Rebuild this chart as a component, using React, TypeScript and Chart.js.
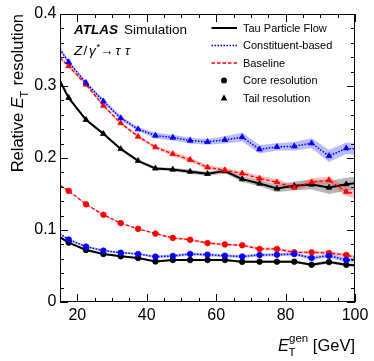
import React, { useEffect, useRef } from 'react';
import { Chart, registerables } from 'chart.js';

Chart.register(...registerables);

// ---- data ----
const binCenters = [17.5, 22.5, 27.5, 32.5, 37.5, 42.5, 47.5, 52.5, 57.5, 62.5, 67.5, 72.5, 77.5, 82.5, 87.5, 92.5, 97.5];
const axisEdges = [15, 100];

// Tail resolution (triangles)
const tailTPF = [0.2835, 0.253, 0.2336, 0.2126, 0.196, 0.1855, 0.184, 0.181, 0.178, 0.1818, 0.1706, 0.1646, 0.1576, 0.1613, 0.1632, 0.159, 0.1636];
const tailTPFEdge = [0.307, 0.165];
const tailCB = [0.3333, 0.3045, 0.2788, 0.2555, 0.240, 0.2312, 0.2284, 0.2242, 0.2224, 0.2252, 0.229, 0.2121, 0.2154, 0.2163, 0.2205, 0.2028, 0.2135];
const tailCBEdge = [0.351, 0.2126];
const tailBase = [0.3277, 0.302, 0.2727, 0.2485, 0.2298, 0.215, 0.2056, 0.1976, 0.187, 0.1832, 0.1786, 0.1716, 0.1664, 0.159, 0.1664, 0.1692, 0.1529];
const tailBaseEdge = [0.339, 0.1506];

// Core resolution (circles)
const coreTPF = [0.0825, 0.0723, 0.0667, 0.0634, 0.0611, 0.0564, 0.0583, 0.0583, 0.0583, 0.0583, 0.0558, 0.056, 0.056, 0.056, 0.0517, 0.0555, 0.0517];
const coreTPFEdge = [0.090, 0.051];
const coreCB = [0.0867, 0.0769, 0.0713, 0.0685, 0.0667, 0.063, 0.0639, 0.0667, 0.0657, 0.0643, 0.0632, 0.0653, 0.0657, 0.0667, 0.0611, 0.0643, 0.0583];
const coreCBEdge = [0.0947, 0.058];
const coreBase = [0.1543, 0.1357, 0.1212, 0.1095, 0.1016, 0.095, 0.089, 0.0865, 0.0818, 0.080, 0.0788, 0.0737, 0.0737, 0.069, 0.069, 0.068, 0.0653];
const coreBaseEdge = [0.162, 0.062];

// Uncertainty half-widths
const errTailTPF = [0.002, 0.002, 0.002, 0.002, 0.002, 0.002, 0.002, 0.003, 0.003, 0.003, 0.004, 0.004, 0.005, 0.006, 0.007, 0.009, 0.009];
const errTailTPFEdge = [0.003, 0.009];
const errTailCB = [0.002, 0.002, 0.003, 0.003, 0.003, 0.004, 0.004, 0.004, 0.004, 0.005, 0.006, 0.006, 0.005, 0.006, 0.007, 0.0085, 0.008];
const errTailCBEdge = [0.003, 0.008];
const errTailBase = [0.002, 0.002, 0.002, 0.002, 0.002, 0.002, 0.003, 0.003, 0.003, 0.003, 0.003, 0.004, 0.004, 0.004, 0.005, 0.005, 0.006];
const errTailBaseEdge = [0.002, 0.007];
const errCoreTPF = [0.001, 0.001, 0.001, 0.001, 0.001, 0.001, 0.001, 0.001, 0.001, 0.001, 0.0015, 0.0015, 0.0015, 0.0015, 0.002, 0.002, 0.002];
const errCoreTPFEdge = [0.001, 0.002];
const errCoreCB = [0.0015, 0.0015, 0.0015, 0.0015, 0.0015, 0.002, 0.002, 0.002, 0.002, 0.002, 0.002, 0.002, 0.002, 0.0025, 0.0025, 0.003, 0.003];
const errCoreCBEdge = [0.0015, 0.003];
const errCoreBase = [0.001, 0.001, 0.001, 0.001, 0.001, 0.001, 0.0015, 0.0015, 0.0015, 0.0015, 0.0015, 0.002, 0.002, 0.002, 0.002, 0.002, 0.0025];
const errCoreBaseEdge = [0.001, 0.0025];

const xTickLabels = [20, 40, 60, 80, 100];
const yTickLabels = [0, 0.1, 0.2, 0.3, 0.4];

const legendLabels = ['Tau Particle Flow', 'Constituent-based', 'Baseline', 'Core resolution', 'Tail resolution'];

// ---- helpers ----
const FONT = '"Liberation Sans", Arial, Helvetica, sans-serif';
const BLACK = '#000000';
const BLUE = '#0000ff';
const RED = '#ff0000';

function build(vals: number[], edges: number[]) {
  return [
    { x: axisEdges[0], y: edges[0] },
    ...binCenters.map((x, i) => ({ x, y: vals[i] })),
    { x: axisEdges[1], y: edges[1] },
  ];
}
function shifted(vals: number[], edges: number[], err: number[], errE: number[], sign: number) {
  return build(vals.map((v, i) => v + sign * err[i]), edges.map((v, i) => v + sign * errE[i]));
}

type Series = { vals: number[]; edges: number[]; err: number[]; errE: number[]; color: string; band: string; dash: number[]; width: number; style: string; radius: number };

const seriesList: Series[] = [
  { vals: tailCB, edges: tailCBEdge, err: errTailCB, errE: errTailCBEdge, color: BLUE, band: 'rgba(60,60,255,0.35)', dash: [1.5, 1.5], width: 1.5, style: 'triangle', radius: 3.3 },
  { vals: tailBase, edges: tailBaseEdge, err: errTailBase, errE: errTailBaseEdge, color: RED, band: 'rgba(255,60,60,0.32)', dash: [3.5, 2], width: 1.3, style: 'triangle', radius: 3.3 },
  { vals: tailTPF, edges: tailTPFEdge, err: errTailTPF, errE: errTailTPFEdge, color: BLACK, band: 'rgba(0,0,0,0.28)', dash: [], width: 2, style: 'triangle', radius: 3.3 },
  { vals: coreCB, edges: coreCBEdge, err: errCoreCB, errE: errCoreCBEdge, color: BLUE, band: 'rgba(60,60,255,0.35)', dash: [1.5, 1.5], width: 1.5, style: 'circle', radius: 2.8 },
  { vals: coreBase, edges: coreBaseEdge, err: errCoreBase, errE: errCoreBaseEdge, color: RED, band: 'rgba(255,60,60,0.32)', dash: [3.5, 2], width: 1.3, style: 'circle', radius: 2.8 },
  { vals: coreTPF, edges: coreTPFEdge, err: errCoreTPF, errE: errCoreTPFEdge, color: BLACK, band: 'rgba(0,0,0,0.28)', dash: [], width: 2, style: 'circle', radius: 2.8 },
];

function makeDatasets() {
  const ds: any[] = [];
  const nPts = binCenters.length + 2;
  seriesList.forEach((s) => {
    const lowIdx = ds.length;
    ds.push({
      type: 'line', data: shifted(s.vals, s.edges, s.err, s.errE, -1), borderWidth: 0, borderColor: 'transparent',
      pointRadius: 0, fill: false, order: 10, tension: 0,
    });
    ds.push({
      type: 'line', data: shifted(s.vals, s.edges, s.err, s.errE, 1), borderWidth: 0, borderColor: 'transparent',
      pointRadius: 0, fill: { target: lowIdx }, backgroundColor: s.band, order: 10, tension: 0,
    });
  });
  seriesList.forEach((s) => {
    ds.push({
      type: 'line', data: build(s.vals, s.edges), borderColor: s.color, backgroundColor: s.color,
      borderWidth: s.width, borderDash: s.dash, fill: false, tension: 0, order: 0,
      pointStyle: s.style,
      pointRadius: (c: any) => (c.dataIndex === 0 || c.dataIndex === nPts - 1 ? 0 : s.radius),
      pointBorderWidth: 0.8, pointBorderColor: s.color, pointBackgroundColor: s.color,
    });
  });
  return ds;
}

function drawMarker(ctx: CanvasRenderingContext2D, style: string, x: number, y: number, r: number) {
  ctx.beginPath();
  if (style === 'circle') {
    ctx.arc(x, y, r, 0, Math.PI * 2);
  } else {
    ctx.moveTo(x, y - r * 1.1);
    ctx.lineTo(x + r, y + r * 0.75);
    ctx.lineTo(x - r, y + r * 0.75);
    ctx.closePath();
  }
  ctx.fill();
}

const decorPlugin = {
  id: 'decor',
  afterDraw(chart: any) {
    const ctx: CanvasRenderingContext2D = chart.ctx;
    const xs = chart.scales.x;
    const ys = chart.scales.y;
    const { left, right, top, bottom } = chart.chartArea;
    ctx.save();
    ctx.strokeStyle = '#000';
    ctx.lineWidth = 1;
    ctx.setLineDash([]);
    ctx.strokeRect(left + 0.5, top + 0.5, right - left - 1, bottom - top - 1);

    // x ticks
    for (let v = 15; v <= 100; v += 5) {
      const px = Math.round(xs.getPixelForValue(v)) + 0.5;
      const len = v % 20 === 0 ? 8 : 4;
      ctx.beginPath();
      ctx.moveTo(px, bottom); ctx.lineTo(px, bottom - len);
      ctx.moveTo(px, top); ctx.lineTo(px, top + len);
      ctx.stroke();
    }
    // y ticks
    for (let i = 0; i <= 20; i++) {
      const py = Math.round(ys.getPixelForValue(i * 0.02)) + 0.5;
      const len = i % 5 === 0 ? 8 : 4;
      ctx.beginPath();
      ctx.moveTo(left, py); ctx.lineTo(left + len, py);
      ctx.moveTo(right, py); ctx.lineTo(right - len, py);
      ctx.stroke();
    }

    ctx.fillStyle = '#000';
    ctx.textBaseline = 'alphabetic';
    ctx.textAlign = 'left';

    // x title: E_T^gen [GeV]
    {
      const big = 16.5, small = 11.5;
      const fE = `italic ${big}px ${FONT}`;
      const fS = `${small}px ${FONT}`;
      const fR = `${big}px ${FONT}`;
      ctx.font = fE; const wE = ctx.measureText('E').width;
      ctx.font = fS; const wSub = ctx.measureText('T').width; const wSup = ctx.measureText('gen').width;
      ctx.font = fR; const wG = ctx.measureText(' [GeV]').width;
      const total = wE + Math.max(wSub, wSup) + wG;
      let x0 = right - total;
      const base = 351;
      ctx.font = fE; ctx.fillText('E', x0, base);
      ctx.font = fS; ctx.fillText('T', x0 + wE - 0.5, base + 4.5); ctx.fillText('gen', x0 + wE, base - 9);
      ctx.font = fR; ctx.fillText(' [GeV]', x0 + wE + Math.max(wSub, wSup), base);
    }
    // y title: Relative E_T resolution (rotated)
    {
      const big = 16.5, small = 11.5;
      const fR = `${big}px ${FONT}`;
      const fE = `italic ${big}px ${FONT}`;
      const fS = `${small}px ${FONT}`;
      ctx.font = fR; const w1 = ctx.measureText('Relative ').width; const w3 = ctx.measureText(' resolution').width;
      ctx.font = fE; const wE = ctx.measureText('E').width;
      ctx.font = fS; const wT = ctx.measureText('T').width;
      const total = w1 + wE + wT + w3;
      ctx.save();
      ctx.translate(23, top);
      ctx.rotate(-Math.PI / 2);
      let x = -total;
      ctx.font = fR; ctx.fillText('Relative ', x, 0); x += w1;
      ctx.font = fE; ctx.fillText('E', x, 0); x += wE;
      ctx.font = fS; ctx.fillText('T', x - 0.5, 4.5); x += wT;
      ctx.font = fR; ctx.fillText(' resolution', x, 0);
      ctx.restore();
    }

    // ATLAS Simulation
    ctx.font = `bold italic 13.5px ${FONT}`;
    ctx.fillText('ATLAS', 74, 33.5);
    ctx.font = `13.5px ${FONT}`;
    ctx.fillText('Simulation', 124, 33.5);

    // Z/gamma* -> tau tau
    {
      const b = 55;
      ctx.font = `italic 13.5px ${FONT}`;
      ctx.fillText('Z', 74, b);
      ctx.font = `13.5px ${FONT}`;
      ctx.fillText('/', 83.5, b);
      ctx.font = `italic 13.5px ${FONT}`;
      ctx.fillText('γ', 89, b);
      ctx.font = `9.5px ${FONT}`;
      ctx.fillText('*', 96.5, b - 5);
      ctx.font = `13.5px ${FONT}`;
      ctx.fillText('→', 100, b);
      ctx.font = `italic 13.5px ${FONT}`;
      ctx.fillText('τ', 115.5, b);
      ctx.fillText('τ', 125, b);
    }

    // legend
    {
      const rows = [28, 45.5, 63, 80.5, 98];
      const x1 = 211.5, x2 = 237, tx = 243;
      ctx.font = `11px ${FONT}`;
      ctx.textBaseline = 'middle';
      const lineStyles = [
        { c: BLACK, w: 2, d: [] as number[] },
        { c: BLUE, w: 1.5, d: [1.5, 1.5] },
        { c: RED, w: 1.3, d: [3.5, 2] },
      ];
      lineStyles.forEach((s, i) => {
        ctx.strokeStyle = s.c; ctx.lineWidth = s.w; ctx.setLineDash(s.d);
        ctx.beginPath(); ctx.moveTo(x1, rows[i]); ctx.lineTo(x2, rows[i]); ctx.stroke();
      });
      ctx.setLineDash([]);
      ctx.fillStyle = BLACK;
      drawMarker(ctx, 'circle', 224, rows[3], 3);
      drawMarker(ctx, 'triangle', 224, rows[4], 3.3);
      legendLabels.forEach((t, i) => ctx.fillText(t, tx, rows[i] + 0.5));
    }
    ctx.restore();
  },
};

export default function App() {
  const ref = useRef<HTMLCanvasElement | null>(null);
  useEffect(() => {
    if (!ref.current) return;
    const chart = new Chart(ref.current, {
      type: 'line',
      data: { datasets: makeDatasets() },
      options: {
        animation: false,
        responsive: false,
        devicePixelRatio: 1,
        layout: { padding: { top: 14, right: 19, left: 0, bottom: 0 } },
        plugins: { legend: { display: false }, tooltip: { enabled: false }, filler: { propagate: false } },
        elements: { line: { capBezierPoints: false } },
        scales: {
          x: {
            type: 'linear', min: 15, max: 100,
            afterBuildTicks: (s: any) => { s.ticks = xTickLabels.map((v) => ({ value: v })); },
            afterFit: (s: any) => { s.height = 59; },
            grid: { display: false, drawTicks: false },
            border: { display: false },
            ticks: { color: '#000', font: { family: FONT, size: 16 }, padding: 4, maxRotation: 0, autoSkip: false, callback: (v: any) => String(v) },
          },
          y: {
            type: 'linear', min: 0, max: 0.4,
            afterBuildTicks: (s: any) => { s.ticks = yTickLabels.map((v) => ({ value: v })); },
            afterFit: (s: any) => { s.width = 60; },
            grid: { display: false, drawTicks: false },
            border: { display: false },
            ticks: { color: '#000', font: { family: FONT, size: 16 }, padding: 3.5, callback: (v: any) => String(Math.round(v * 10) / 10) },
          },
        },
      },
      plugins: [decorPlugin],
    } as any);
    return () => chart.destroy();
  }, []);
  return (
    <div style={{ position: 'absolute', left: 0, top: 0, width: 374, height: 361 }}>
      <canvas ref={ref} width={374} height={361} style={{ display: 'block', width: 374, height: 361 }} />
    </div>
  );
}
